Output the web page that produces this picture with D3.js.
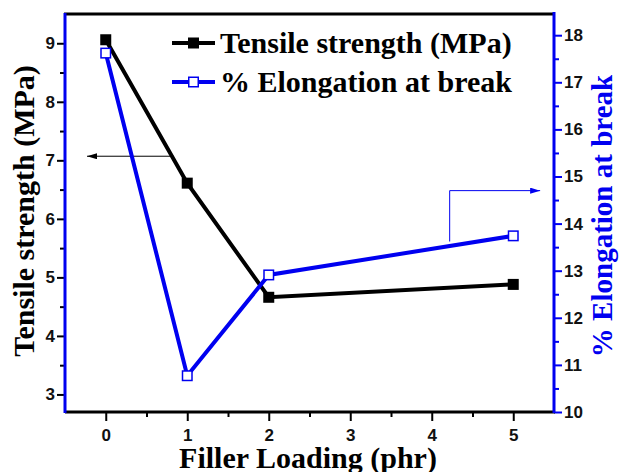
<!DOCTYPE html>
<html>
<head>
<meta charset="utf-8">
<script src="https://cdn.jsdelivr.net/npm/d3@7"></script>
<style>
  html, body { margin: 0; padding: 0; background: #fff; }
  svg { display: block; }
</style>
</head>
<body>
<script>
// ---- data ----
const fillerLoading = [0, 1, 2, 5];
const tensileStrength = [9.06, 6.61, 4.66, 4.88];
const elongationAtBreak = [17.62, 10.77, 12.91, 13.74];

const xTicks = [0, 1, 2, 3, 4, 5];
const xMinorTicks = [0.5, 1.5, 2.5, 3.5, 4.5];
const leftTicks = [3, 4, 5, 6, 7, 8, 9];
const leftMinorTicks = [3.5, 4.5, 5.5, 6.5, 7.5, 8.5];
const rightTicks = [10, 11, 12, 13, 14, 15, 16, 17, 18];
const rightMinorTicks = [10.5, 11.5, 12.5, 13.5, 14.5, 15.5, 16.5, 17.5];

const legendLabels = ["Tensile strength (MPa)", "% Elongation at break"];
const xTitle = "Filler Loading (phr)";
const leftTitle = "Tensile strength (MPa)";
const rightTitle = "% Elongation at break";

// annotation arrows (data units)
const leftArrow = [[0.83, 7.07], [-0.23, 7.07]];          // left-axis units
const rightArrow = [[4.22, 13.62], [4.22, 14.7], [5.33, 14.7]]; // right-axis units

// ---- layout ----
const W = 619, H = 472;
const plot = { left: 65, right: 554, top: 14, bottom: 412 };
const BLUE = "#0000f0";
const serif = "'Liberation Serif', 'Times New Roman', serif";
const sans = "'Liberation Sans', Arial, sans-serif";

const x = d3.scaleLinear().domain([-0.5, 5.5]).range([plot.left, plot.right]);
const yL = d3.scaleLinear().domain([2.7, 9.5]).range([plot.bottom, plot.top]);
const yR = d3.scaleLinear().domain([10, 18.45]).range([plot.bottom, plot.top]);

const svg = d3.select("body").append("svg").attr("width", W).attr("height", H);

svg.append("defs").call(defs => {
  defs.append("marker").attr("id", "ahBlack").attr("viewBox", "0 0 10 6")
    .attr("refX", 10).attr("refY", 3).attr("markerWidth", 10).attr("markerHeight", 6)
    .attr("markerUnits", "userSpaceOnUse").attr("orient", "auto")
    .append("path").attr("d", "M0,0 L10,3 L0,6 Z").attr("fill", "#000");
  defs.append("marker").attr("id", "ahBlue").attr("viewBox", "0 0 10 6")
    .attr("refX", 10).attr("refY", 3).attr("markerWidth", 12).attr("markerHeight", 6)
    .attr("markerUnits", "userSpaceOnUse").attr("orient", "auto")
    .append("path").attr("d", "M0,0 L10,3 L0,6 Z").attr("fill", BLUE);
});

// ---- axes ----
function styleTicks(g, color, width) {
  g.selectAll(".tick line").attr("stroke", color).attr("stroke-width", width);
  g.selectAll(".tick text").attr("font-family", sans).attr("font-size", 17)
    .attr("font-weight", "bold").attr("fill", "#111");
}

// bottom
const gx = svg.append("g").attr("transform", `translate(0,${plot.bottom})`)
  .call(d3.axisBottom(x).tickValues(xTicks).tickSize(9).tickSizeOuter(0).tickPadding(8).tickFormat(d3.format("d")));
gx.select(".domain").remove();
styleTicks(gx, "#000", 2);
const gxm = svg.append("g").attr("transform", `translate(0,${plot.bottom})`)
  .call(d3.axisBottom(x).tickValues(xMinorTicks).tickSize(5).tickFormat(""));
gxm.select(".domain").remove();
styleTicks(gxm, "#000", 2);

// left
const gl = svg.append("g").attr("transform", `translate(${plot.left},0)`)
  .call(d3.axisLeft(yL).tickValues(leftTicks).tickSize(8).tickSizeOuter(0).tickPadding(2).tickFormat(d3.format("d")));
gl.select(".domain").remove();
styleTicks(gl, "#000", 2);
const glm = svg.append("g").attr("transform", `translate(${plot.left},0)`)
  .call(d3.axisLeft(yL).tickValues(leftMinorTicks).tickSize(5).tickFormat(""));
glm.select(".domain").remove();
styleTicks(glm, "#000", 2);

// right
const gr = svg.append("g").attr("transform", `translate(${plot.right},0)`)
  .call(d3.axisRight(yR).tickValues(rightTicks).tickSize(8).tickSizeOuter(0).tickPadding(2).tickFormat(d3.format("d")));
gr.select(".domain").remove();
styleTicks(gr, BLUE, 2);
const grm = svg.append("g").attr("transform", `translate(${plot.right},0)`)
  .call(d3.axisRight(yR).tickValues(rightMinorTicks).tickSize(5).tickFormat(""));
grm.select(".domain").remove();
styleTicks(grm, BLUE, 2);

// frame lines
svg.append("line").attr("x1", x.range()[0] - 1).attr("x2", x.range()[1])
  .attr("y1", yL.range()[1]).attr("y2", yL.range()[1]).attr("stroke", "#000").attr("stroke-width", 3);
svg.append("line").attr("x1", x.range()[0]).attr("x2", x.range()[1] + 1)
  .attr("y1", yL.range()[0]).attr("y2", yL.range()[0]).attr("stroke", "#000").attr("stroke-width", 3);
svg.append("line").attr("x1", x.range()[0]).attr("x2", x.range()[0])
  .attr("y1", yL.range()[0] + 1).attr("y2", yL.range()[1] - 1).attr("stroke", BLUE).attr("stroke-width", 3);
svg.append("line").attr("x1", x.range()[1]).attr("x2", x.range()[1])
  .attr("y1", yR.range()[0] + 1).attr("y2", yR.range()[1] - 2).attr("stroke", BLUE).attr("stroke-width", 3);

// ---- annotation arrows ----
svg.append("path")
  .attr("d", d3.line().x(d => x(d[0])).y(d => yL(d[1]))(leftArrow))
  .attr("fill", "none").attr("stroke", "#000").attr("stroke-width", 1)
  .attr("marker-end", "url(#ahBlack)");
svg.append("path")
  .attr("d", d3.line().x(d => x(d[0])).y(d => yR(d[1]))(rightArrow))
  .attr("fill", "none").attr("stroke", BLUE).attr("stroke-width", 1)
  .attr("marker-end", "url(#ahBlue)");

// ---- series ----
const pts = (ys) => fillerLoading.map((v, i) => [v, ys[i]]);
const ms = 11;

svg.append("path")
  .attr("d", d3.line().x(d => x(d[0])).y(d => yL(d[1]))(pts(tensileStrength)))
  .attr("fill", "none").attr("stroke", "#000").attr("stroke-width", 4);
svg.append("g").selectAll("rect").data(pts(tensileStrength)).join("rect")
  .attr("x", d => x(d[0]) - ms / 2).attr("y", d => yL(d[1]) - ms / 2)
  .attr("width", ms).attr("height", ms).attr("fill", "#000");

svg.append("path")
  .attr("d", d3.line().x(d => x(d[0])).y(d => yR(d[1]))(pts(elongationAtBreak)))
  .attr("fill", "none").attr("stroke", BLUE).attr("stroke-width", 4);
svg.append("g").selectAll("rect").data(pts(elongationAtBreak)).join("rect")
  .attr("x", d => x(d[0]) - (ms - 1.5) / 2).attr("y", d => yR(d[1]) - (ms - 1.5) / 2)
  .attr("width", ms - 1.5).attr("height", ms - 1.5)
  .attr("fill", "#fff").attr("stroke", BLUE).attr("stroke-width", 1.5);

// ---- legend ----
const legend = svg.append("g");
const legendRows = [
  { label: legendLabels[0], color: "#000", fill: "#000", y: 43 },
  { label: legendLabels[1], color: BLUE, fill: "#fff", y: 82 }
];
legendRows.forEach(r => {
  legend.append("line").attr("x1", 172).attr("x2", 215).attr("y1", r.y).attr("y2", r.y)
    .attr("stroke", r.color).attr("stroke-width", 4);
  if (r.fill === "#000") {
    legend.append("rect").attr("x", 193.5 - ms / 2).attr("y", r.y - ms / 2).attr("width", ms).attr("height", ms).attr("fill", "#000");
  } else {
    legend.append("rect").attr("x", 193.5 - (ms - 1.5) / 2).attr("y", r.y - (ms - 1.5) / 2)
      .attr("width", ms - 1.5).attr("height", ms - 1.5).attr("fill", "#fff").attr("stroke", BLUE).attr("stroke-width", 1.5);
  }
  legend.append("text").attr("x", 220).attr("y", r.y + 9.5)
    .attr("font-family", serif).attr("font-weight", "bold").attr("font-size", 30)
    .attr("fill", "#000").text(r.label);
});

// ---- axis titles ----
svg.append("text").attr("x", 308).attr("y", 468).attr("text-anchor", "middle")
  .attr("font-family", serif).attr("font-weight", "bold").attr("font-size", 30)
  .attr("fill", "#000").text(xTitle);
svg.append("text").attr("transform", "translate(34,211) rotate(-90)").attr("text-anchor", "middle")
  .attr("font-family", serif).attr("font-weight", "bold").attr("font-size", 30)
  .attr("fill", "#000").text(leftTitle);
svg.append("text").attr("transform", "translate(612,216) rotate(-90)").attr("text-anchor", "middle")
  .attr("font-family", serif).attr("font-weight", "bold").attr("font-size", 29)
  .attr("fill", BLUE).text(rightTitle);
</script>
</body>
</html>
